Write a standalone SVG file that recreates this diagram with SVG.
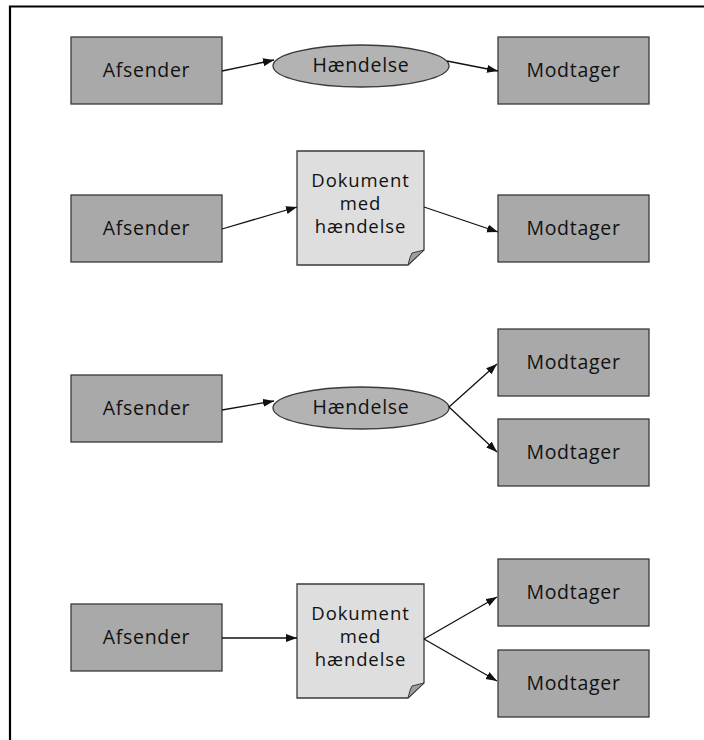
<svg xmlns="http://www.w3.org/2000/svg" width="704" height="740" viewBox="0 0 704 740">
  <style>
    .box { fill: #a9a9a9; stroke: #3a3a3a; stroke-width: 1.3; }
    .event { fill: #b3b3b3; stroke: #3a3a3a; stroke-width: 1.3; }
    .doc { fill: #dedede; stroke: #3a3a3a; stroke-width: 1.3; }
    .flap { fill: #9e9e9e; stroke: #3a3a3a; stroke-width: 1; }
    .label { font-family: "Open Sans", "Noto Sans", "DejaVu Sans", sans-serif; font-size: 19.5px; letter-spacing: 0.7px; fill: #111; text-anchor: middle; }
    .doc-label { font-size: 18.5px; letter-spacing: 0.9px; }
    .link { fill: none; stroke: #111; stroke-width: 1.3; marker-end: url(#head); }
  </style>
  <defs>
    <marker id="head" markerUnits="userSpaceOnUse" markerWidth="12" markerHeight="9" refX="11" refY="4" orient="auto">
      <path d="M0,0 L11,4 L0,8 z" fill="#111"/>
    </marker>
    <!-- page outline with a turned-down corner -->
    <path id="docShape" d="M0,0 H127 V99 L111,114 H0 Z"/>
    <path id="flapShape" d="M111,114 Q113,105 115,102 L127,99 Z"/>
  </defs>

  <rect width="704" height="740" fill="#ffffff"/>
  <!-- frame -->
  <path d="M10,740 V6.5 H704" fill="none" stroke="#000" stroke-width="2.2"/>

  <!-- row 1: sender, event, receiver -->
  <g id="afsender1">
    <rect class="box" x="71" y="37" width="151" height="67"/>
    <text class="label" x="146.5" y="77">Afsender</text>
  </g>
  <g id="haendelse1">
    <ellipse class="event" cx="361" cy="66" rx="88" ry="21"/>
    <text class="label" x="361" y="72">Hændelse</text>
  </g>
  <g id="modtager1">
    <rect class="box" x="498" y="37" width="151" height="67"/>
    <text class="label" x="573.5" y="77">Modtager</text>
  </g>

  <!-- row 2: sender, document, receiver -->
  <g id="afsender2">
    <rect class="box" x="71" y="195" width="151" height="67"/>
    <text class="label" x="146.5" y="235">Afsender</text>
  </g>
  <g id="dokument2" transform="translate(297,151)">
    <use href="#docShape" class="doc"/>
    <use href="#flapShape" class="flap"/>
    <text class="label doc-label" x="63.5" y="36">Dokument</text>
    <text class="label doc-label" x="63.5" y="59">med</text>
    <text class="label doc-label" x="63.5" y="82">hændelse</text>
  </g>
  <g id="modtager2">
    <rect class="box" x="498" y="195" width="151" height="67"/>
    <text class="label" x="573.5" y="235">Modtager</text>
  </g>

  <!-- row 3: sender, event, two receivers -->
  <g id="afsender3">
    <rect class="box" x="71" y="375" width="151" height="67"/>
    <text class="label" x="146.5" y="415">Afsender</text>
  </g>
  <g id="haendelse3">
    <ellipse class="event" cx="361" cy="408" rx="88" ry="21"/>
    <text class="label" x="361" y="414">Hændelse</text>
  </g>
  <g id="modtager3a">
    <rect class="box" x="498" y="329" width="151" height="67"/>
    <text class="label" x="573.5" y="369">Modtager</text>
  </g>
  <g id="modtager3b">
    <rect class="box" x="498" y="419" width="151" height="67"/>
    <text class="label" x="573.5" y="459">Modtager</text>
  </g>

  <!-- row 4: sender, document, two receivers -->
  <g id="afsender4">
    <rect class="box" x="71" y="604" width="151" height="67"/>
    <text class="label" x="146.5" y="644">Afsender</text>
  </g>
  <g id="dokument4" transform="translate(297,584)">
    <use href="#docShape" class="doc"/>
    <use href="#flapShape" class="flap"/>
    <text class="label doc-label" x="63.5" y="36">Dokument</text>
    <text class="label doc-label" x="63.5" y="59">med</text>
    <text class="label doc-label" x="63.5" y="82">hændelse</text>
  </g>
  <g id="modtager4a">
    <rect class="box" x="498" y="559" width="151" height="67"/>
    <text class="label" x="573.5" y="599">Modtager</text>
  </g>
  <g id="modtager4b">
    <rect class="box" x="498" y="650" width="151" height="67"/>
    <text class="label" x="573.5" y="690">Modtager</text>
  </g>

  <!-- connectors -->
  <g id="connectors">
    <line class="link" x1="222" y1="71" x2="274" y2="60"/>
    <line class="link" x1="447" y1="61" x2="498" y2="71"/>

    <line class="link" x1="222" y1="229" x2="297" y2="207"/>
    <line class="link" x1="424" y1="207" x2="498" y2="232"/>

    <line class="link" x1="222" y1="410" x2="274" y2="401"/>
    <line class="link" x1="449" y1="407" x2="497" y2="364"/>
    <line class="link" x1="449" y1="407" x2="497" y2="452"/>

    <line class="link" x1="222" y1="638" x2="297" y2="638"/>
    <line class="link" x1="424" y1="639" x2="497" y2="597"/>
    <line class="link" x1="424" y1="639" x2="497" y2="681"/>
  </g>
</svg>
